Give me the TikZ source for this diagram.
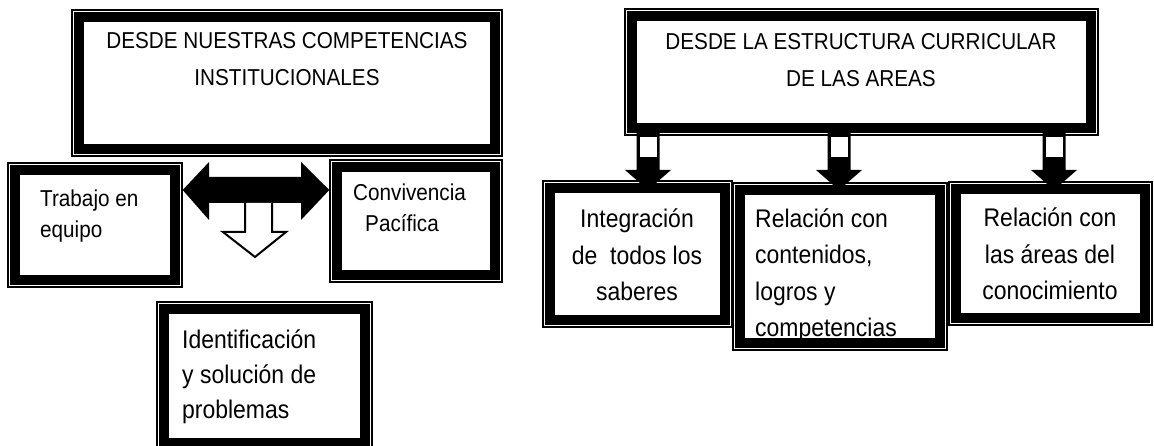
\documentclass[tikz,border=0pt]{standalone}
\usepackage{fontspec}
\setmainfont[FakeStretch=0.9]{Liberation Sans}
\usetikzlibrary{fit,calc}
\tikzset{
  frame/.style={draw, line width=1.4pt, inner sep=0pt, rectangle},
  band/.style={line width=10pt},
  lbli/.style={inner sep=0pt, font=\fontsize{25.5}{35}\selectfont},
  lblh/.style={inner sep=0pt, font=\fontsize{23}{37}\selectfont},
  lbls/.style={inner sep=0pt, font=\fontsize{23}{31.5}\selectfont},
  lblb/.style={inner sep=0pt, font=\fontsize{25.5}{36.5}\selectfont},
  blk/.style={fill=black},
  hollow/.style={fill=white, draw=black, line width=2pt, line join=miter},
}
\newcommand\dframe[3]{%
  \node[frame, fit={#2 #3}] (#1) {};
  \draw[band] ([shift={(8,8)}]#1.north west) rectangle ([shift={(-8,-8)}]#1.south east);
}
\begin{document}
\begin{tikzpicture}[x=1pt,y=-1pt]
\useasboundingbox (0,0) rectangle (1154,446);
\clip (0,0) rectangle (1154,446);
\fill[white] (0,0) rectangle (1154,446);

% ---------- left group ----------
\dframe{tl}{(72,10)}{(502,156)}
\node[lblh, anchor=base, align=center] (tlt) at (287,86) {DESDE NUESTRAS COMPETENCIAS\\INSTITUCIONALES};

\dframe{trab}{(8,163)}{(182,287)}
\node[lbls, anchor=base west, align=left] (trabt) at (40,238) {Trabajo en\\equipo};

\dframe{conv}{(330,160)}{(502,282)}
\node[lbls, anchor=base west, align=left] (convt) at (353,232) {Convivencia\\\hspace*{12pt}Pacífica};

\dframe{iden}{(157,302)}{(372,450)}
\node[lbli, anchor=base west, align=left] (ident) at (182,418) {Identificación\\y solución de\\problemas};

% double horizontal arrow between the two boxes
\fill[blk] (trab.east |- 0,190) -- (209,162) -- (209,177) -- (301,177) -- (301,162)
  -- (conv.west |- 0,190) -- (301,220) -- (301,203) -- (209,203) -- (209,220) -- cycle;
% hollow down arrow
\draw[hollow] (245,203) -- (245,232) -- (223,232) -- (255,257) -- (286,232) -- (272,232) -- (272,203);

% ---------- right group ----------
\foreach \x in {648,839,1054}{
  \fill[blk] (\x-11.5,132) -- (\x+11.5,132) -- (\x+11.5,170) -- (\x+23,170) -- (\x,190)
    -- (\x-23,170) -- (\x-11.5,170) -- cycle;
  \fill[white] (\x-8.5,137) rectangle (\x+8.5,157);
}

\dframe{tr}{(625,9)}{(1098,135)}
\node[lblh, anchor=base, align=center] (trt) at (861,86.5) {DESDE LA ESTRUCTURA CURRICULAR\\DE LAS AREAS};

\dframe{ba}{(543,181)}{(732,327)}
\node[lblb, anchor=base, align=center] (bat) at (637,301) {Integración\\de\ \ todos los\\saberes};

\dframe{bb}{(733,183)}{(947,350)}
\node[lblb, anchor=base west, align=left] (bbt) at (755,337) {Relación con\\contenidos,\\logros y\\competencias};

\dframe{bc}{(949,182)}{(1152,325)}
\node[lblb, anchor=base, align=center] (bct) at (1050,300) {Relación con\\las áreas del\\conocimiento};
\end{tikzpicture}
\end{document}
